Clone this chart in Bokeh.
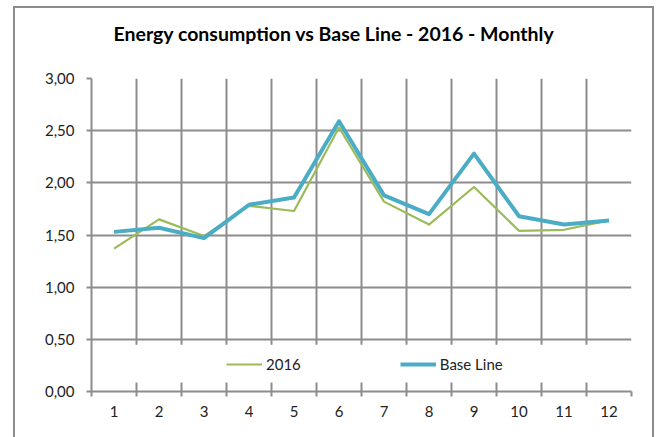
from bokeh.plotting import figure
from bokeh.models import (FixedTicker, CustomJSTickFormatter, Legend, LegendItem,
                          BoxAnnotation, Range1d)
from bokeh.embed import file_html
from bokeh.resources import INLINE

# ---- data ----
months = [1, 2, 3, 4, 5, 6, 7, 8, 9, 10, 11, 12]
usage_2016 = [1.37, 1.65, 1.49, 1.78, 1.73, 2.53, 1.82, 1.60, 1.96, 1.54, 1.55, 1.64]
base_line = [1.53, 1.57, 1.47, 1.79, 1.86, 2.59, 1.88, 1.70, 2.28, 1.68, 1.60, 1.64]
y_ticks = [0.0, 0.5, 1.0, 1.5, 2.0, 2.5, 3.0]
title_text = "Energy consumption  vs Base Line - 2016 - Monthly"
series_names = ["2016", "Base Line"]

GRID = "#8c8c8c"
GREEN = "#9BBB59"
BLUE = "#4BACC6"
FONT = "Lato"
TEXT = "#222222"

W, H = 641, 449
boundaries = [m - 0.5 for m in months] + [months[-1] + 0.5]

p = figure(width=W, height=H, output_backend="svg", toolbar_location=None,
           x_range=Range1d(boundaries[0], boundaries[-1]),
           y_range=Range1d(y_ticks[0], y_ticks[-1]),
           min_border_left=78, min_border_right=23, min_border_top=90,
           min_border_bottom=46)
p.outline_line_color = None
p.background_fill_color = "white"
p.border_fill_alpha = 0.0

p.title.text = title_text
p.title.text_font = FONT
p.title.text_font_size = "19.5px"
p.title.text_font_style = "bold"
p.title.text_color = "#000000"
p.title.align = "left"
p.title.offset = 22
p.title.vertical_align = "top"
p.title.standoff = 64

# grids
p.xgrid.ticker = FixedTicker(ticks=boundaries)
p.xgrid.grid_line_color = GRID
p.xgrid.grid_line_width = 2
p.ygrid.ticker = FixedTicker(ticks=y_ticks)
p.ygrid.grid_line_color = GRID
p.ygrid.grid_line_width = 2

# x axis
xa = p.xaxis[0]
xa.ticker = FixedTicker(ticks=months, minor_ticks=boundaries)
xa.axis_line_color = GRID
xa.axis_line_width = 2
xa.major_tick_line_color = None
xa.minor_tick_line_color = GRID
xa.minor_tick_line_width = 2
xa.minor_tick_out = 5
xa.minor_tick_in = 0
xa.major_label_text_font = FONT
xa.major_label_text_font_size = "15px"
xa.major_label_text_color = TEXT
xa.major_label_standoff = 8

# y axis
ya = p.yaxis[0]
ya.ticker = FixedTicker(ticks=y_ticks)
ya.formatter = CustomJSTickFormatter(code="return tick.toFixed(2).replace('.', ',');")
ya.axis_line_color = GRID
ya.axis_line_width = 2
ya.major_tick_line_color = GRID
ya.major_tick_line_width = 2
ya.major_tick_out = 5
ya.major_tick_in = 0
ya.minor_tick_line_color = None
ya.major_label_text_font = FONT
ya.major_label_text_font_size = "15px"
ya.major_label_text_color = TEXT
ya.major_label_standoff = 12

# white band behind the legend
band = BoxAnnotation(bottom=0.086, top=0.448, left=boundaries[0], right=boundaries[-1] - 0.03,
                     fill_color="white", fill_alpha=1.0, line_color=None, level="underlay")
p.add_layout(band)

r1 = p.line(months, usage_2016, line_color=GREEN, line_width=2.2, line_join="round")
r2 = p.line(months, base_line, line_color=BLUE, line_width=4, line_join="round")

legend = Legend(items=[LegendItem(label=series_names[0], renderers=[r1]),
                       LegendItem(label=series_names[1], renderers=[r2])],
                orientation="horizontal", location=(135, 18),
                glyph_width=36, glyph_height=18, label_standoff=4, spacing=99,
                padding=0, margin=0, border_line_color=None,
                background_fill_alpha=0.0,
                label_text_font=FONT, label_text_font_size="15px",
                label_text_color=TEXT)
p.add_layout(legend, "center")

# outer chart border: three lines painted as CSS backgrounds behind the
# transparent canvas margin (its bottom edge lies below the visible window)
line = "linear-gradient(#8c8c8c, #8c8c8c)"
p.styles = {"margin-left": "13px", "margin-top": "-12px",
            "background-color": "white",
            "background-image": f"{line}, {line}, {line}",
            "background-repeat": "no-repeat",
            "background-size": "100% 2px, 2px 100%, 2px 100%",
            "background-position": "0 18px, 0 18px, right 0 top 18px"}

open("out.html", "w").write(file_html(p, INLINE))
